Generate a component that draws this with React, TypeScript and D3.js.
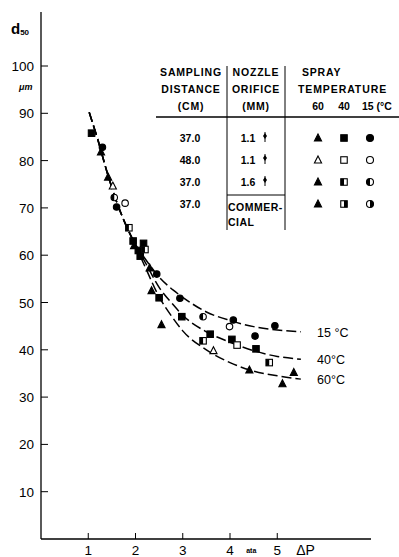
import React from "react";
import * as d3 from "d3";

// ---- data ----
const xTicks = [1, 2, 3, 4, 5];
const yTicks = [10, 20, 30, 40, 50, 60, 70, 80, 90, 100];

// fitted curves (ΔP [ata], d50 [µm])
const curve15 = [[1.02, 90.2], [1.2, 84.5], [1.4, 77.5], [1.6, 71.3], [1.8, 66.3], [2.0, 62.3], [2.2, 59.3], [2.5, 55.4], [2.8, 52.6], [3.0, 51.1], [3.5, 48.0], [4.0, 46.2], [4.5, 44.9], [5.0, 44.2], [5.5, 43.8]];
const curve40 = [[1.02, 90.2], [1.2, 84.5], [1.4, 77.5], [1.6, 71.3], [1.8, 66.3], [2.0, 62.2], [2.2, 58.6], [2.5, 53.2], [2.8, 49.5], [3.0, 47.3], [3.5, 43.8], [4.0, 41.6], [4.5, 39.8], [5.0, 38.6], [5.5, 38.0]];
const curve60 = [[1.02, 90.2], [1.2, 84.5], [1.4, 77.5], [1.6, 71.3], [1.8, 66.3], [2.0, 62.0], [2.2, 57.6], [2.5, 51.2], [2.8, 46.6], [3.0, 44.0], [3.5, 40.0], [4.0, 37.3], [4.5, 35.5], [5.0, 34.5], [5.5, 33.8]];
const curveLabels = ["15 °C", "40°C", "60°C"];
const curveLabelY = [43.8, 38.0, 33.8];

// measured points
const triFilled = [[1.27, 81.8], [1.42, 76.5], [1.97, 62.0], [2.3, 57.3], [2.34, 52.5], [2.55, 45.3], [4.41, 35.7], [5.35, 35.2], [5.11, 32.8]];
const triOpen = [[1.52, 74.6], [3.65, 39.8]];
const sqFilled = [[1.07, 85.8], [1.95, 63.0], [2.17, 62.5], [2.06, 61.0], [2.1, 59.8], [2.5, 51.0], [2.98, 47.0], [3.58, 43.3], [4.04, 42.2], [4.55, 40.2]];
const sqOpen = [[4.15, 41.0]];
const sqHalf = [[1.86, 65.8], [2.2, 61.2], [3.43, 41.9], [4.83, 37.3]];
const circFilled = [[1.3, 82.8], [1.6, 70.2], [2.45, 56.0], [2.94, 50.9], [4.07, 46.3], [4.53, 42.9], [4.95, 45.1]];
const circOpen = [[1.78, 71.0], [3.99, 44.9]];
const circHalf = [[1.55, 72.2], [3.43, 47.0]];

// legend table
const headerDistance = ["SAMPLING", "DISTANCE", "(CM)"];
const headerNozzle = ["NOZZLE", "ORIFICE", "(MM)"];
const headerSpray = ["SPRAY", "TEMPERATURE"];
const tempLabels = ["60", "40", "15 (°C"];
const rowDistance = ["37.0", "48.0", "37.0", "37.0"];
const rowNozzle = ["1.1", "1.1", "1.6"];
const rowFills = ["filled", "open", "halfL", "halfR"];

const W = 399, H = 557;
const x = d3.scaleLinear().domain([0, 7]).range([41, 371.75]);
const y = d3.scaleLinear().domain([0, 100]).range([539, 66]);

const FONT = "'Liberation Sans', Arial, sans-serif";

function Marker({ shape, fill, cx, cy, s }: any) {
  const st = { stroke: "#000", strokeWidth: 1.1 };
  const base = fill === "filled" ? "#000" : "#fff";
  if (shape === "tri") {
    const p = `M${cx},${cy - s * 0.62}L${cx + s * 0.55},${cy + s * 0.45}L${cx - s * 0.55},${cy + s * 0.45}Z`;
    return <path d={p} fill={base} {...st} />;
  }
  if (shape === "sq") {
    return (
      <g>
        <rect x={cx - s / 2} y={cy - s / 2} width={s} height={s} fill={base} {...st} />
        {fill === "halfL" && <rect x={cx - s / 2} y={cy - s / 2} width={s / 2} height={s} fill="#000" />}
        {fill === "halfR" && <rect x={cx} y={cy - s / 2} width={s / 2} height={s} fill="#000" />}
      </g>
    );
  }
  const r = s / 2;
  return (
    <g>
      <circle cx={cx} cy={cy} r={r} fill={base} {...st} />
      {fill === "halfL" && <path d={`M${cx},${cy - r}A${r},${r} 0 0 0 ${cx},${cy + r}Z`} fill="#000" />}
      {fill === "halfR" && <path d={`M${cx},${cy - r}A${r},${r} 0 0 1 ${cx},${cy + r}Z`} fill="#000" />}
    </g>
  );
}

export default function App() {
  const line = d3.line<number[]>().x((d) => x(d[0])).y((d) => y(d[1])).curve(d3.curveMonotoneX);
  const curves = [curve15, curve40, curve60];

  const groups: [number[][], string, string][] = [
    [triFilled, "tri", "filled"], [triOpen, "tri", "open"],
    [sqFilled, "sq", "filled"], [sqOpen, "sq", "open"], [sqHalf, "sq", "halfL"],
    [circFilled, "circ", "filled"], [circOpen, "circ", "open"], [circHalf, "circ", "halfL"],
  ];

  const rowY = [142, 164, 186, 208];
  const mX = [318, 344, 370];
  return (
    <svg width={W} height={H} style={{ position: "absolute", left: 0, top: 0, background: "#fff" }} fontFamily={FONT}>
      {/* axes */}
      <line x1={41} y1={12} x2={41} y2={539} stroke="#000" strokeWidth={1.3} />
      <line x1={41} y1={539} x2={371} y2={539} stroke="#000" strokeWidth={1.3} />
      {yTicks.map((t) => (
        <g key={t}>
          <line x1={41} x2={48} y1={y(t)} y2={y(t)} stroke="#000" strokeWidth={1} />
          <text x={34} y={y(t) + 5} textAnchor="end" fontSize={13.5}>{t}</text>
        </g>
      ))}
      {xTicks.map((t) => (
        <g key={t}>
          <line x1={x(t)} x2={x(t)} y1={539} y2={533} stroke="#000" strokeWidth={1} />
          <text x={x(t)} y={555} textAnchor="middle" fontSize={13.5}>{t}</text>
        </g>
      ))}
      <text x={x(4.45)} y={553} textAnchor="middle" fontSize={7} fontWeight="bold">ata</text>
      <text x={x(5.6)} y={555} textAnchor="middle" fontSize={14}>ΔP</text>
      <text x={11} y={34} fontSize={15} fontWeight="bold">d<tspan fontSize={8} dy={1}>50</tspan></text>
      <text x={19} y={90} fontSize={9} fontStyle="italic" fontWeight="bold">μm</text>

      {/* curves */}
      {curves.map((c, i) => (
        <path key={i} d={line(c as any) || ""} fill="none" stroke="#000" strokeWidth={1.5} strokeDasharray="10,4" />
      ))}
      {curveLabels.map((l, i) => (
        <text key={l} x={317} y={y(curveLabelY[i]) + 5} fontSize={12.5}>{l}</text>
      ))}

      {/* points */}
      {groups.map(([pts, shape, fill], gi) =>
        pts.map((p, i) => <Marker key={gi + "-" + i} shape={shape} fill={fill} cx={x(p[0])} cy={y(p[1])} s={6.5} />)
      )}

      {/* legend table */}
      <g fontSize={10.5} fontWeight="bold">
        {headerDistance.map((t, i) => (
          <text key={t} x={191} y={76 + i * 17} textAnchor="middle" letterSpacing={0.8}>{t}</text>
        ))}
        {headerNozzle.map((t, i) => (
          <text key={t} x={256} y={76 + i * 17} textAnchor="middle" letterSpacing={0.8}>{t}</text>
        ))}
        <text x={302} y={76} letterSpacing={0.8}>{headerSpray[0]}</text>
        <text x={298} y={93} letterSpacing={0.9}>{headerSpray[1]}</text>
        {tempLabels.map((t, i) => (
          <text key={t} x={i < 2 ? mX[i] : 362} y={110} textAnchor={i < 2 ? "middle" : "start"}>{t}</text>
        ))}
        <line x1={156} x2={399} y1={117} y2={117} stroke="#000" strokeWidth={1.3} />
        <line x1={227} x2={227} y1={66} y2={230} stroke="#000" strokeWidth={1} />
        <line x1={285} x2={285} y1={66} y2={230} stroke="#000" strokeWidth={1} />
        <line x1={227} x2={285} y1={195} y2={195} stroke="#000" strokeWidth={1} />
        {rowDistance.map((t, i) => (
          <text key={i} x={190} y={rowY[i]} textAnchor="middle">{t}</text>
        ))}
        {rowNozzle.map((t, i) => (
          <g key={i}>
            <text x={248} y={rowY[i]} textAnchor="middle">{t}</text>
            <line x1={265} x2={265} y1={rowY[i] - 10} y2={rowY[i]} stroke="#000" strokeWidth={1} />
            <path d={`M265,${rowY[i] - 9}l2,3l-2,3l-2,-3Z`} fill="#000" />
          </g>
        ))}
        <text x={228} y={211} letterSpacing={0.5}>COMMER-</text>
        <text x={228} y={226} letterSpacing={0.5}>CIAL</text>
        {rowFills.map((f, i) => (
          <g key={f}>
            <Marker shape="tri" fill={f === "open" ? "open" : "filled"} cx={mX[0]} cy={rowY[i] - 4} s={6.5} />
            <Marker shape="sq" fill={f} cx={mX[1]} cy={rowY[i] - 4} s={6.5} />
            <Marker shape="circ" fill={f} cx={mX[2]} cy={rowY[i] - 4} s={7} />
          </g>
        ))}
      </g>
    </svg>
  );
}
